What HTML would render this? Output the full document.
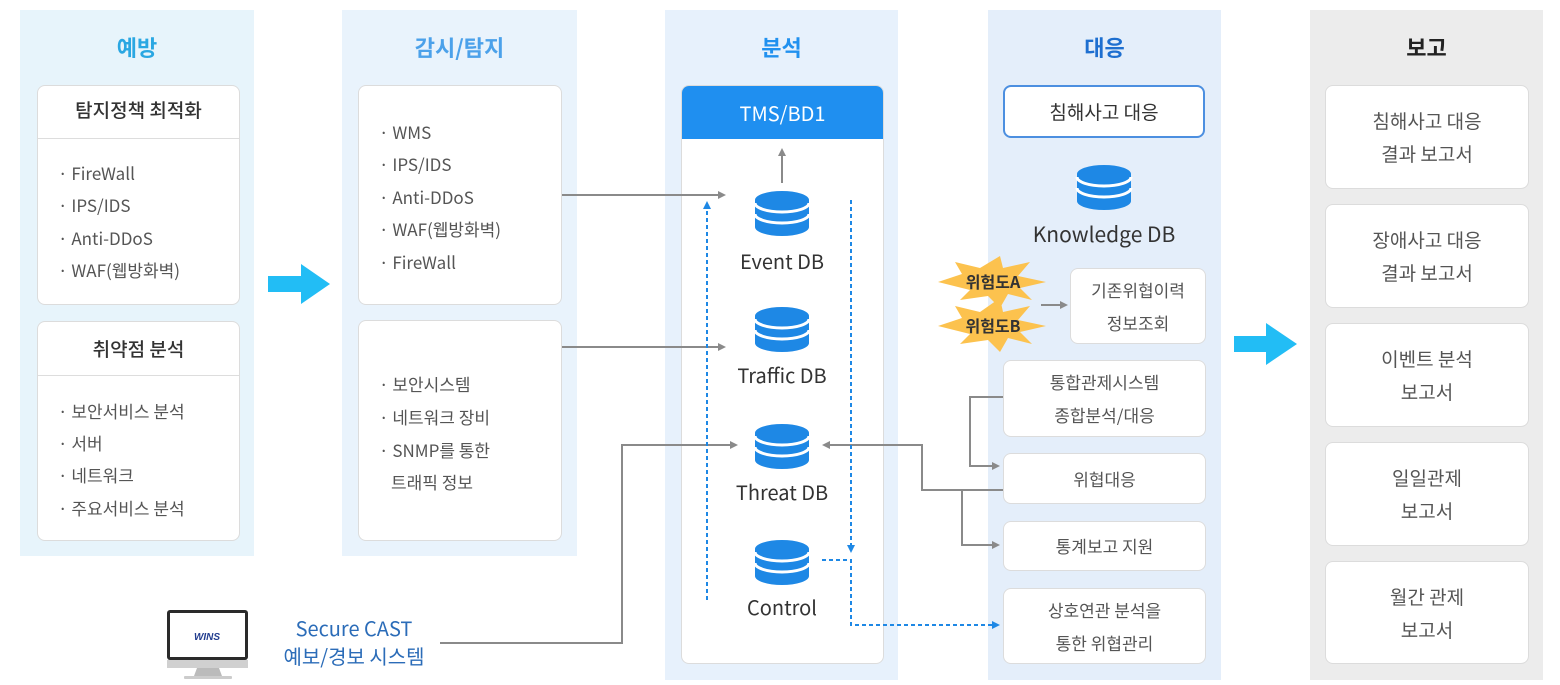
<!DOCTYPE html>
<html><head><meta charset="utf-8"><style>
*{margin:0;padding:0;box-sizing:border-box}
body{width:1560px;height:685px;background:#fff;position:relative;overflow:hidden;font-family:"Noto Sans CJK KR","Liberation Sans",sans-serif;color:#555}
.col{position:absolute;top:10px}
.t{position:absolute;width:100%;text-align:center;font-size:22px;font-weight:bold;top:20px;line-height:34px}
.box{position:absolute;background:#fff;border:1px solid #dcdcdc;border-radius:8px}
.hd{position:absolute;left:0;right:0;text-align:center;font-size:19px;color:#333;font-weight:500;line-height:26px}
.it{position:absolute;font-size:17px;color:#555;white-space:nowrap;line-height:22px}
.ab{position:absolute;text-align:center;font-size:17px;color:#555;line-height:33px}
.lb{position:absolute;text-align:center;font-size:20px;color:#333;width:200px;line-height:26px}
svg{position:absolute;left:0;top:0}
</style></head><body>
<div class="col" style="left:20px;width:234px;height:546px;background:#e7f4fb"><div class="t" style="color:#2aa7e2">예방</div></div>
<div class="col" style="left:342px;width:235px;height:546px;background:#e9f3fc"><div class="t" style="color:#4ba1ea">감시/탐지</div></div>
<div class="col" style="left:665px;width:233px;height:670px;background:#e7f1fc"><div class="t" style="color:#2191ef">분석</div></div>
<div class="col" style="left:988px;width:233px;height:670px;background:#e4eefa"><div class="t" style="color:#1e6fd0">대응</div></div>
<div class="col" style="left:1310px;width:233px;height:670px;background:#ececec"><div class="t" style="color:#222">보고</div></div>

<div class="box" style="left:37px;top:85px;width:203px;height:220px">
 <div class="hd" style="top:11px">탐지정책 최적화</div>
 <div style="position:absolute;left:0;right:0;top:52px;border-top:1px solid #ddd"></div>
 <div class="it" style="left:20px;top:76px">· FireWall</div>
 <div class="it" style="left:20px;top:108px">· IPS/IDS</div>
 <div class="it" style="left:20px;top:141px">· Anti-DDoS</div>
 <div class="it" style="left:20px;top:173px">· WAF(웹방화벽)</div>
</div>
<div class="box" style="left:37px;top:321px;width:203px;height:220px">
 <div class="hd" style="top:14px">취약점 분석</div>
 <div style="position:absolute;left:0;right:0;top:53px;border-top:1px solid #ddd"></div>
 <div class="it" style="left:20px;top:78px">· 보안서비스 분석</div>
 <div class="it" style="left:20px;top:110px">· 서버</div>
 <div class="it" style="left:20px;top:142px">· 네트워크</div>
 <div class="it" style="left:20px;top:175px">· 주요서비스 분석</div>
</div>

<div class="box" style="left:358px;top:85px;width:204px;height:220px">
 <div class="it" style="left:20px;top:35px">· WMS</div>
 <div class="it" style="left:20px;top:67px">· IPS/IDS</div>
 <div class="it" style="left:20px;top:100px">· Anti-DDoS</div>
 <div class="it" style="left:20px;top:132px">· WAF(웹방화벽)</div>
 <div class="it" style="left:20px;top:165px">· FireWall</div>
</div>
<div class="box" style="left:358px;top:320px;width:204px;height:221px">
 <div class="it" style="left:20px;top:52px">· 보안시스템</div>
 <div class="it" style="left:20px;top:85px">· 네트워크 장비</div>
 <div class="it" style="left:20px;top:118px">· SNMP를 통한</div>
 <div class="it" style="left:32px;top:150px">트래픽 정보</div>
</div>

<div class="box" style="left:681px;top:85px;width:203px;height:579px;overflow:hidden">
 <div style="position:absolute;left:0;right:0;top:0;height:53px;background:#1f8ff0;color:#fff;font-size:20px;text-align:center;line-height:53px">TMS/BD1</div>
</div>
<div class="lb" style="left:682px;top:248px">Event DB</div>
<div class="lb" style="left:682px;top:362px">Traffic DB</div>
<div class="lb" style="left:682px;top:479px">Threat DB</div>
<div class="lb" style="left:682px;top:594px">Control</div>

<div class="box" style="left:1003px;top:85px;width:202px;height:53px;border:2px solid #4c8fe0;text-align:center;line-height:49px;font-size:19px;color:#333">침해사고 대응</div>
<div class="lb" style="left:1004px;top:221px;font-size:21px">Knowledge DB</div>
<div class="box ab" style="left:1070px;top:268px;width:136px;height:76px;padding-top:4px">기존위협이력<br>정보조회</div>
<div class="box ab" style="left:1003px;top:360px;width:203px;height:77px;padding-top:4px">통합관제시스템<br>종합분석/대응</div>
<div class="box ab" style="left:1003px;top:453px;width:203px;height:51px;line-height:49px">위협대응</div>
<div class="box ab" style="left:1003px;top:521px;width:203px;height:50px;line-height:48px">통계보고 지원</div>
<div class="box ab" style="left:1003px;top:588px;width:203px;height:76px;padding-top:4px">상호연관 분석을<br>통한 위협관리</div>

<div class="box ab" style="left:1325px;top:85px;width:204px;height:104px;padding-top:18px;font-size:19px">침해사고 대응<br>결과 보고서</div>
<div class="box ab" style="left:1325px;top:204px;width:204px;height:104px;padding-top:18px;font-size:19px">장애사고 대응<br>결과 보고서</div>
<div class="box ab" style="left:1325px;top:323px;width:204px;height:104px;padding-top:18px;font-size:19px">이벤트 분석<br>보고서</div>
<div class="box ab" style="left:1325px;top:442px;width:204px;height:104px;padding-top:18px;font-size:19px">일일관제<br>보고서</div>
<div class="box ab" style="left:1325px;top:561px;width:204px;height:103px;padding-top:18px;font-size:19px">월간 관제<br>보고서</div>

<div style="position:absolute;left:264px;top:614px;width:180px;text-align:center;color:#2b6cb8;font-size:20px;line-height:28px">Secure CAST<br>예보/경보 시스템</div>

<svg width="1560" height="685" viewBox="0 0 1560 685">
 <defs>
  <g id="db">
   <ellipse cx="0" cy="36" rx="27" ry="9" fill="#1e88e5"/>
   <rect x="-27" y="9" width="54" height="27" fill="#1e88e5"/>
   <ellipse cx="0" cy="9" rx="27" ry="9" fill="#1e88e5"/>
   <path d="M-27,12 A27,9 0 0 0 27,12" fill="none" stroke="#fff" stroke-width="3"/>
   <path d="M-27,23 A27,9 0 0 0 27,23" fill="none" stroke="#fff" stroke-width="3"/>
  </g>
  <marker id="ag" markerWidth="8" markerHeight="8" refX="6" refY="4" orient="auto" markerUnits="userSpaceOnUse"><path d="M0,0 L8,4 L0,8z" fill="#8a8a8a"/></marker>
  <marker id="abl" markerWidth="8" markerHeight="8" refX="6" refY="4" orient="auto" markerUnits="userSpaceOnUse"><path d="M0,0 L8,4 L0,8z" fill="#1e88e5"/></marker>
 </defs>
 <path d="M268,276 h33 v-12 l29,20 l-29,20 v-12 h-33z" fill="#22bdf5"/>
 <path d="M1234,336 h32 v-13 l31,21 l-31,21 v-13 h-32z" fill="#22bdf5"/>
 <use href="#db" x="782" y="191"/>
 <use href="#db" x="782" y="307"/>
 <use href="#db" x="782" y="424"/>
 <use href="#db" x="782" y="540"/>
 <use href="#db" x="1104" y="165"/>
 <g stroke="#8a8a8a" stroke-width="2" fill="none">
  <line x1="782" y1="183" x2="782" y2="150" marker-end="url(#ag)"/>
  <line x1="562" y1="195" x2="724" y2="195" marker-end="url(#ag)"/>
  <line x1="562" y1="347" x2="724" y2="347" marker-end="url(#ag)"/>
  <polyline points="440,643 622,643 622,445 736,445" marker-end="url(#ag)"/>
  <polyline points="1003,490 922,490 922,445 824,445" marker-end="url(#ag)"/>
  <polyline points="962,490 962,545 998,545" marker-end="url(#ag)"/>
  <polyline points="1003,397 970,397 970,466 998,466" marker-end="url(#ag)"/>
  <line x1="1041" y1="305" x2="1066" y2="305" marker-end="url(#ag)"/>
 </g>
 <g stroke="#1e88e5" stroke-width="2" stroke-dasharray="4,3" fill="none">
  <line x1="707" y1="600" x2="707" y2="203" marker-end="url(#abl)"/>
  <line x1="851" y1="200" x2="851" y2="551" marker-end="url(#abl)"/>
  <polyline points="822,560 851,560 851,625 998,625" marker-end="url(#abl)"/>
 </g>
 <g fill="#fcc24e">
  <polygon points="938,282 962,274 955,262 980,268 1000,256 1003,268 1030,262 1018,276 1046,282 1020,288 1032,300 1008,294 1000,308 988,296 960,300 970,290"/>
  <polygon points="938,326 962,318 955,306 980,312 1000,298 1003,312 1030,306 1018,320 1046,326 1020,332 1032,344 1008,338 1000,352 988,340 960,344 970,334"/>
 </g>
 <text x="993" y="288" font-size="16" text-anchor="middle" fill="#333" font-family="Noto Sans CJK KR,sans-serif" font-weight="bold">위험도A</text>
 <text x="993" y="332" font-size="16" text-anchor="middle" fill="#333" font-family="Noto Sans CJK KR,sans-serif" font-weight="bold">위험도B</text>
 <rect x="167" y="610" width="81" height="50" rx="3" fill="#2a2a2a"/>
 <rect x="170" y="613" width="75" height="44" fill="#fff"/>
 <rect x="167" y="660" width="81" height="8" fill="#d0d0d0"/>
 <path d="M197,668 h22 l3,8 h-28z" fill="#bbb"/>
 <rect x="184" y="676" width="48" height="3" rx="1" fill="#ccc"/>
 <text x="207" y="640" font-size="10" font-style="italic" font-weight="bold" text-anchor="middle" fill="#223d8f" font-family="Liberation Sans,sans-serif">WINS</text>
</svg>
</body></html>
